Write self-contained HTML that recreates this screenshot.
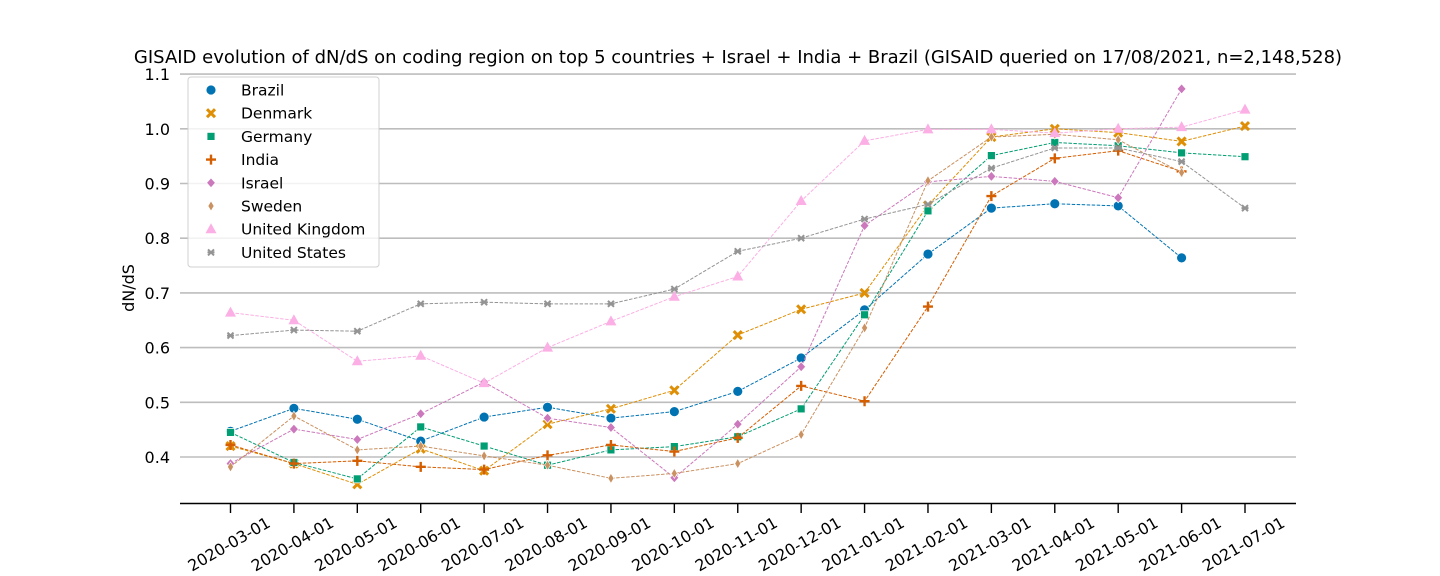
<!DOCTYPE html>
<html><head><meta charset="utf-8"><style>
body{margin:0;background:#fff;}
svg{display:block;font-family:"DejaVu Sans","Liberation Sans",sans-serif;}
</style></head><body>
<svg id="chart" width="1440" height="576" xmlns="http://www.w3.org/2000/svg">
<text x="738" y="63" text-anchor="middle" font-size="18" fill="#000">GISAID evolution of dN/dS on coding region on top 5 countries + Israel + India + Brazil (GISAID queried on 17/08/2021, n=2,148,528)</text>
<text transform="translate(134,288) rotate(-90)" text-anchor="middle" font-size="16">dN/dS</text>
<g id="grid"></g><g id="series"></g><g id="axes"></g><g id="legend"></g>
</svg>
<script>
const dates=["2020-03-01","2020-04-01","2020-05-01","2020-06-01","2020-07-01","2020-08-01","2020-09-01","2020-10-01","2020-11-01","2020-12-01","2021-01-01","2021-02-01","2021-03-01","2021-04-01","2021-05-01","2021-06-01","2021-07-01"];
const yTicks=[0.4,0.5,0.6,0.7,0.8,0.9,1.0,1.1];
const yTickLabels=["0.4","0.5","0.6","0.7","0.8","0.9","1.0","1.1"];
const seriesNames=["Brazil","Denmark","Germany","India","Israel","Sweden","United Kingdom","United States"];
const brazil=[0.447,0.489,0.469,0.429,0.473,0.491,0.471,0.483,0.52,0.581,0.669,0.771,0.855,0.863,0.859,0.764];
const denmark=[0.42,0.388,0.35,0.415,0.375,0.46,0.488,0.522,0.623,0.67,0.70,0.86,0.985,1.0,0.993,0.977,1.005];
const germany=[0.445,0.39,0.36,0.455,0.42,0.385,0.413,0.419,0.437,0.488,0.66,0.85,0.951,0.975,0.969,0.956,0.949];
const india=[0.422,0.388,0.393,0.382,0.377,0.403,0.422,0.41,0.435,0.53,0.502,0.675,0.877,0.946,0.96,0.922];
const israel=[0.388,0.451,0.432,0.479,0.537,0.471,0.454,0.362,0.46,0.565,0.823,0.903,0.913,0.904,0.874,1.073];
const sweden=[0.382,0.475,0.413,0.42,0.402,0.385,0.361,0.37,0.388,0.441,0.636,0.905,0.985,0.99,0.98,0.92];
const uk=[0.664,0.65,0.575,0.585,0.535,0.6,0.648,0.693,0.73,0.868,0.978,0.999,0.999,0.992,1.0,1.003,1.035];
const us=[0.622,0.632,0.63,0.68,0.683,0.68,0.68,0.707,0.776,0.8,0.835,0.862,0.928,0.965,0.965,0.94,0.855];
const allSeries=[brazil,denmark,germany,india,israel,sweden,uk,us];
const colors=["#0173b2","#de8f05","#029e73","#d55e00","#cc78bc","#ca9161","#fbafe4","#949494"];
const markers=["circle","x","square","plus","diamond","thin","triangle","star"];
const NS="http://www.w3.org/2000/svg";
const xs=i=>230.5+i*(1245-230.5)/(dates.length-1);
const ys=v=>457-(v-0.4)*547;
function mk(tag,attrs,parent){const e=document.createElementNS(NS,tag);for(const k in attrs)e.setAttribute(k,attrs[k]);parent.appendChild(e);return e;}
const grid=document.getElementById('grid'),axes=document.getElementById('axes'),ser=document.getElementById('series'),leg=document.getElementById('legend');
yTicks.forEach((t,i)=>{
 const l=mk('line',{x1:180,x2:1296,y1:ys(t),y2:ys(t),stroke:'#bdbdbd','stroke-width':1.6},grid);
 
 
 const tx=mk('text',{x:170,y:ys(t)+6,'text-anchor':'end','font-size':16},axes);tx.textContent=yTickLabels[i];
 
 
});
const sp=mk('line',{x1:180,x2:1296,y1:503.5,y2:503.5,stroke:'#000','stroke-width':1.6},axes);


dates.forEach((d,i)=>{
 mk('line',{x1:xs(i),x2:xs(i),y1:503,y2:513,stroke:'#000','stroke-width':1.4},axes);
 const tx=mk('text',{transform:`translate(${xs(i)+41},${526}) rotate(-30)`,'text-anchor':'end','font-size':15.8},axes);tx.textContent=d;
 
 
});
function marker(type,x,y,c,p,s){
 s=s||1;let e;
 if(type==='circle')e=mk('circle',{cx:x,cy:y,r:5*s,fill:c,stroke:'#fff','stroke-width':0.8},p);
 else if(type==='square')e=mk('rect',{x:x-4*s,y:y-4*s,width:8*s,height:8*s,fill:c,stroke:'#fff','stroke-width':0.8},p);
 else if(type==='diamond')e=mk('path',{d:`M${x},${y-5*s}L${x+4.5*s},${y}L${x},${y+5*s}L${x-4.5*s},${y}Z`,fill:c,stroke:'#fff','stroke-width':0.8},p);
 else if(type==='thin')e=mk('path',{d:`M${x},${y-5*s}L${x+3*s},${y}L${x},${y+5*s}L${x-3*s},${y}Z`,fill:c,stroke:'#fff','stroke-width':0.6},p);
 else if(type==='triangle')e=mk('path',{d:`M${x},${y-6*s}L${x+5.5*s},${y+4*s}L${x-5.5*s},${y+4*s}Z`,fill:c},p);
 else if(type==='x')e=mk('path',{d:`M${x-4*s},${y-4*s}L${x+4*s},${y+4*s}M${x+4*s},${y-4*s}L${x-4*s},${y+4*s}`,stroke:c,'stroke-width':3},p);
 else if(type==='plus')e=mk('path',{d:`M${x-5*s},${y}L${x+5*s},${y}M${x},${y-5*s}L${x},${y+5*s}`,stroke:c,'stroke-width':2.4},p);
 else e=mk('path',{d:`M${x-3*s},${y-3*s}L${x+3*s},${y+3*s}M${x+3*s},${y-3*s}L${x-3*s},${y+3*s}M${x-3.5*s},${y}L${x+3.5*s},${y}`,stroke:c,'stroke-width':2},p);
 return e;
}
allSeries.forEach((vals,si)=>{
 const g=mk('g',{},ser);
 
 
 const pts=vals.map((v,i)=>xs(i)+','+ys(v)).join(' ');
 mk('polyline',{points:pts,fill:'none',stroke:colors[si],'stroke-width':1,'stroke-dasharray':'3.5,1.5'},g);
 vals.forEach((v,i)=>{
  const m=marker(markers[si],xs(i),ys(v),colors[si],g);
  
  
 });
});
const lb=mk('rect',{x:188,y:77,width:191,height:190,rx:3,fill:'#fff','fill-opacity':0.8,stroke:'#d0d0d0','stroke-width':1},leg);


seriesNames.forEach((n,i)=>{
 const y=90+i*23.2;
 const g=mk('g',{},leg);
 
 
 marker(markers[i],211,y,colors[i],g);
 const t=mk('text',{x:241,y:y+5.5,'font-size':15.5},g);t.textContent=n;
});
</script>
</body></html>
